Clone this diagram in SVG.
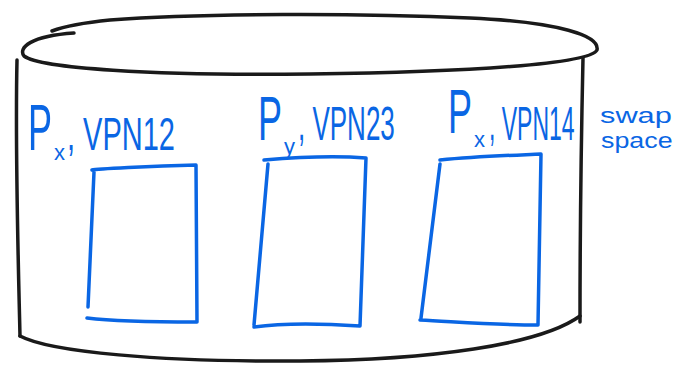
<svg xmlns="http://www.w3.org/2000/svg" width="681" height="380" viewBox="0 0 681 380">
<style>
.blk{fill:none;stroke:#1a1a1a;stroke-width:3.5;stroke-linecap:round;stroke-linejoin:round}
.box{fill:none;stroke:#0a66e4;stroke-width:3.5;stroke-linecap:round;stroke-linejoin:round}
.t{font-family:"Liberation Sans",Arial,sans-serif;fill:#0a66e4}
.p{font-size:36px}
.sub{font-size:22px}
.sw{font-size:22px}
</style>
<rect width="681" height="380" fill="#ffffff"/>
<g id="cylinder">
<path class="blk" d="M74,33 C30,36 18,48 24,56 C40,68 150,76 310,74 C470,72 590,64 597,50 C600,36 560,22 470,18 C360,13 200,13 110,20 C80,23 60,28 52,31"/>
<path class="blk" d="M17,60 C15,150 18,250 20,336"/>
<path class="blk" d="M583,58 C581,150 580,240 580,322"/>
<path class="blk" d="M20,336 C50,352 160,362 300,361 C430,360 540,345 580,316"/>
</g>
<g id="block1">
<path class="box" d="M92,170 C96,169 150,166 196,165 L197,322 M94,172 L88,307 M87,318 C120,322 160,322 196,322"/>
<text class="t p" transform="translate(28,150) scale(1,1.8)">P</text>
<text class="t sub" x="54" y="160">x</text>
<text class="t" font-size="29" transform="translate(67,150) scale(1,1.6)">, VPN12</text>
</g>
<g id="block2">
<path class="box" d="M264,160 C300,157 340,156 366,158 L360,326 M268,164 L254,325 M254,327 C290,322 330,324 360,326"/>
<text class="t p" transform="translate(258,140) scale(1,1.75)">P</text>
<text class="t sub" x="284" y="154">y</text>
<text class="t" font-size="26" transform="translate(298,140) scale(1,1.85)">, VPN23</text>
</g>
<g id="block3">
<path class="box" d="M440,160 C480,156 520,155 541,154 L538,325 M440,164 L421,318 M420,320 C460,322 500,325 538,325"/>
<text class="t p" transform="translate(448,133) scale(1,1.75)">P</text>
<text class="t sub" x="474" y="147">x</text>
<text class="t" font-size="23" transform="translate(489,140) scale(1,2.1)">, VPN14</text>
</g>
<g id="swap">
<text class="t sw" transform="translate(600,123) scale(1.4,1)">swap</text>
<text class="t sw" transform="translate(601,148) scale(1.22,1)">space</text>
</g>
<g id="connectors"></g>
</svg>
